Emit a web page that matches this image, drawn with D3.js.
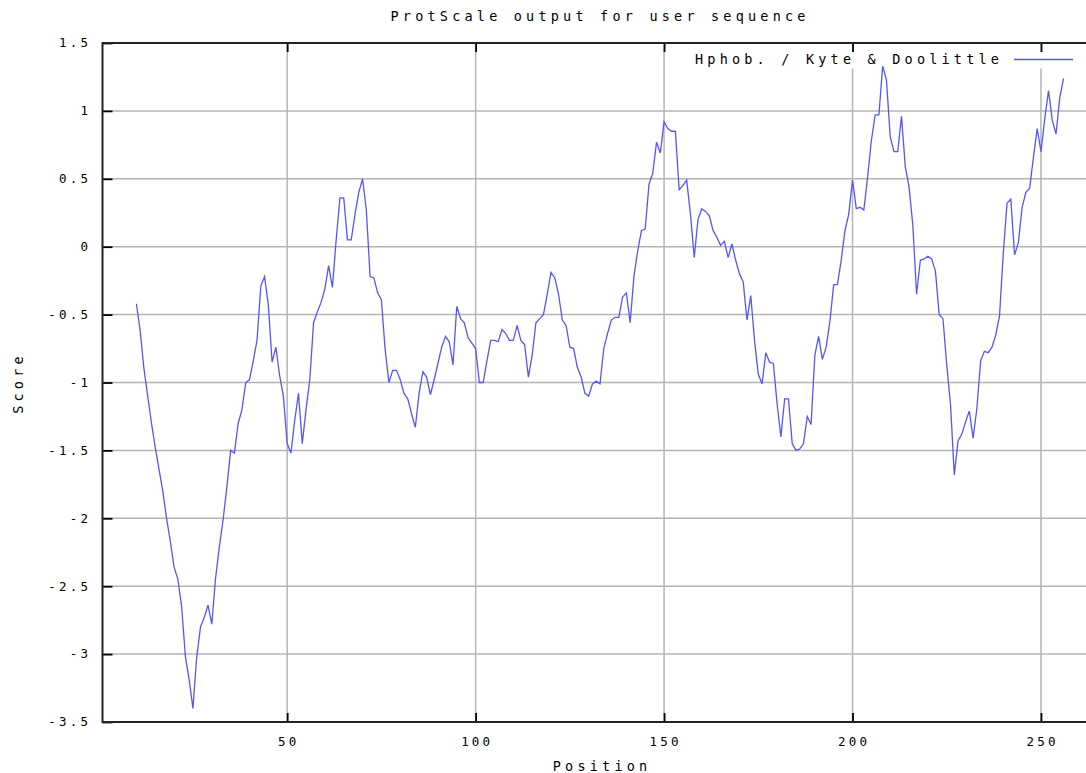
<!DOCTYPE html>
<html>
<head>
<meta charset="utf-8">
<script src="https://cdn.jsdelivr.net/npm/d3@7"></script>
<style>
  html, body { margin: 0; padding: 0; background: #fff; overflow: hidden; }
  svg { display: block; }
  text { font-family: "DejaVu Sans Mono", "Liberation Mono", monospace; fill: #000; }
</style>
</head>
<body>
<svg id="chart" width="1086" height="773"></svg>
<script>
const chartTitle = "ProtScale output for user sequence";
const seriesName = "Hphob. / Kyte & Doolittle";
const xLabel = "Position";
const yLabel = "Score";
const xTicks = [50, 100, 150, 200, 250];
const yTicks = [1.5, 1, 0.5, 0, -0.5, -1, -1.5, -2, -2.5, -3, -3.5];
const yTickLabels = ["1.5", "1", "0.5", "0", "-0.5", "-1", "-1.5", "-2", "-2.5", "-3", "-3.5"];
const firstPosition = 10;
const scores = [
  -0.42, -0.62, -0.90, -1.10, -1.30, -1.48, -1.64, -1.80, -2.00, -2.17,   // 10-19
  -2.36, -2.45, -2.65, -3.02, -3.19, -3.40, -3.02, -2.80, -2.73, -2.64,   // 20-29
  -2.78, -2.44, -2.21, -2.01, -1.77, -1.50, -1.52, -1.30, -1.20, -1.00,   // 30-39
  -0.98, -0.84, -0.69, -0.29, -0.22, -0.43, -0.85, -0.74, -0.95, -1.10,   // 40-49
  -1.45, -1.52, -1.28, -1.08, -1.45, -1.20, -0.98, -0.56, -0.48, -0.41,   // 50-59
  -0.31, -0.14, -0.30, 0.05, 0.36, 0.36, 0.05, 0.05, 0.24, 0.40,          // 60-69
  0.50, 0.27, -0.22, -0.23, -0.34, -0.39, -0.76, -1.00, -0.91, -0.91,     // 70-79
  -0.98, -1.08, -1.12, -1.23, -1.33, -1.08, -0.92, -0.96, -1.09, -0.98,   // 80-89
  -0.86, -0.74, -0.66, -0.70, -0.87, -0.44, -0.53, -0.56, -0.67, -0.71,   // 90-99
  -0.75, -1.00, -1.00, -0.84, -0.69, -0.69, -0.70, -0.61, -0.64, -0.69,   // 100-109
  -0.69, -0.58, -0.69, -0.72, -0.96, -0.80, -0.56, -0.53, -0.50, -0.35,   // 110-119
  -0.19, -0.23, -0.35, -0.54, -0.58, -0.74, -0.75, -0.89, -0.96, -1.08,   // 120-129
  -1.10, -1.01, -0.99, -1.01, -0.75, -0.64, -0.54, -0.52, -0.52, -0.37,   // 130-139
  -0.34, -0.56, -0.22, -0.03, 0.12, 0.13, 0.46, 0.54, 0.77, 0.69,         // 140-149
  0.92, 0.87, 0.85, 0.85, 0.42, 0.45, 0.49, 0.24, -0.08, 0.20,            // 150-159
  0.28, 0.26, 0.23, 0.12, 0.07, 0.01, 0.04, -0.08, 0.02, -0.10,           // 160-169
  -0.20, -0.26, -0.54, -0.36, -0.69, -0.94, -1.01, -0.78, -0.85, -0.86,   // 170-179
  -1.16, -1.40, -1.12, -1.12, -1.45, -1.50, -1.49, -1.45, -1.25, -1.31,   // 180-189
  -0.80, -0.66, -0.83, -0.74, -0.55, -0.28, -0.28, -0.10, 0.12, 0.24,     // 190-199
  0.49, 0.28, 0.29, 0.27, 0.51, 0.78, 0.97, 0.97, 1.33, 1.23,             // 200-209
  0.81, 0.70, 0.70, 0.96, 0.59, 0.44, 0.16, -0.35, -0.10, -0.09,          // 210-219
  -0.07, -0.09, -0.18, -0.50, -0.53, -0.87, -1.16, -1.68, -1.43, -1.38,   // 220-229
  -1.29, -1.21, -1.41, -1.19, -0.84, -0.77, -0.78, -0.74, -0.65, -0.51,   // 230-239
  -0.05, 0.32, 0.35, -0.06, 0.03, 0.29, 0.40, 0.43, 0.66, 0.87,           // 240-249
  0.70, 0.94, 1.15, 0.93, 0.83, 1.10, 1.24                                // 250-256
];
const xDomain = [1, 265];
const yDomain = [-3.5, 1.5];

const data = scores.map((v, i) => ({ pos: firstPosition + i, score: v }));

const svg = d3.select("#chart");
const plotLeft = 102.5, plotRight = 1097.5, plotTop = 43, plotBottom = 722;

const x = d3.scaleLinear().domain(xDomain).range([plotLeft, plotRight]);
const y = d3.scaleLinear().domain(yDomain).range([plotBottom, plotTop]);

const gridColor = "#b4b4b4";

// grid
const grid = svg.append("g");
grid.selectAll("line.hg").data(yTicks).join("line")
  .attr("x1", plotLeft).attr("x2", plotRight)
  .attr("y1", d => y(d)).attr("y2", d => y(d))
  .attr("stroke", gridColor).attr("stroke-width", 1.5);
grid.selectAll("line.vg").data(xTicks).join("line")
  .attr("x1", d => x(d)).attr("x2", d => x(d))
  .attr("y1", plotTop).attr("y2", plotBottom)
  .attr("stroke", gridColor).attr("stroke-width", 1.5);

// legend background (hides grid)
svg.append("rect").attr("x", 682).attr("y", plotTop + 1.5).attr("width", 420).attr("height", 24).attr("fill", "#fff");

// axes using d3 axis generators (inward ticks)
const axisLeft = d3.axisRight(y).tickValues(yTicks).tickSize(10).tickFormat("");
const axisBottom = d3.axisTop(x).tickValues(xTicks).tickSize(9).tickFormat("");
const axisTop = d3.axisBottom(x).tickValues(xTicks).tickSize(9).tickFormat("");

function styleAxis(g) {
  g.select(".domain").remove();
  g.selectAll(".tick line").attr("stroke", "#000").attr("stroke-width", 1.8);
}
svg.append("g").attr("transform", `translate(${plotLeft},0)`).call(axisLeft).call(styleAxis);
svg.append("g").attr("transform", `translate(0,${plotBottom})`).call(axisBottom).call(styleAxis);
svg.append("g").attr("transform", `translate(0,${plotTop})`).call(axisTop).call(styleAxis);

// frame
svg.append("path")
  .attr("d", `M${plotRight},${plotTop}H${plotLeft}V${plotBottom}H${plotRight}V${plotTop}`)
  .attr("fill", "none").attr("stroke", "#222").attr("stroke-width", 2);

// tick labels
const tickFont = 12.5, tickLS = 3.2;
svg.append("g").selectAll("text").data(yTicks).join("text")
  .attr("x", 88 + tickLS).attr("y", d => y(d))
  .attr("dy", "0.35em")
  .attr("text-anchor", "end")
  .attr("font-size", tickFont)
  .attr("letter-spacing", tickLS)
  .text((d, i) => yTickLabels[i]);
svg.append("g").selectAll("text").data(xTicks).join("text")
  .attr("x", d => x(d) + tickLS / 2).attr("y", 742)
  .attr("dy", "0.35em")
  .attr("text-anchor", "middle")
  .attr("font-size", tickFont)
  .attr("letter-spacing", tickLS)
  .text(d => d);

// titles
const lblFont = 13.5, lblLS = 4.2;
svg.append("text").attr("x", 598 + lblLS / 2).attr("y", 16).attr("dy", "0.35em")
  .attr("text-anchor", "middle").attr("font-size", lblFont).attr("letter-spacing", lblLS)
  .text(chartTitle);
svg.append("text").attr("x", 600 + lblLS / 2).attr("y", 766).attr("dy", "0.35em")
  .attr("text-anchor", "middle").attr("font-size", lblFont).attr("letter-spacing", lblLS)
  .text(xLabel);
svg.append("text")
  .attr("transform", "translate(18,383) rotate(-90)")
  .attr("dy", "0.35em")
  .attr("text-anchor", "middle").attr("font-size", lblFont).attr("letter-spacing", lblLS)
  .text(yLabel);

// legend
const lineColor = "#5555ff";
svg.append("text").attr("x", 999 + lblLS).attr("y", 59).attr("dy", "0.35em")
  .attr("text-anchor", "end").attr("font-size", lblFont).attr("letter-spacing", lblLS)
  .text(seriesName);
svg.append("line").attr("x1", 1014).attr("x2", 1073).attr("y1", 59.5).attr("y2", 59.5)
  .attr("stroke", lineColor).attr("stroke-width", 1.3);

// data line
const line = d3.line().x(d => x(d.pos)).y(d => y(d.score));
svg.append("path").datum(data)
  .attr("d", line)
  .attr("fill", "none")
  .attr("stroke", lineColor)
  .attr("stroke-width", 1.3)
  .attr("stroke-linejoin", "miter");
</script>
</body>
</html>
